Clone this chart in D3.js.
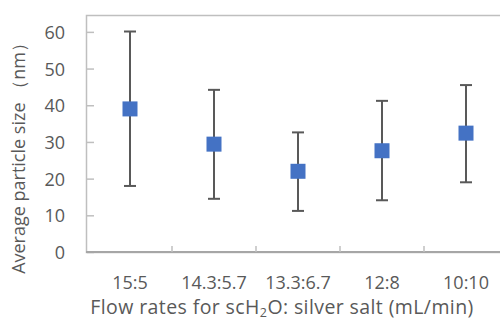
<!DOCTYPE html>
<html>
<head>
<meta charset="utf-8">
<script src="https://cdn.jsdelivr.net/npm/d3@7"></script>
<style>
  body { margin: 0; background: #fff; }
  #chart text { font-family: "Open Sans", sans-serif; fill: #595959; }
</style>
</head>
<body>
<div id="chart"><svg></svg></div>
<script>
var categories = ["15:5", "14.3:5.7", "13.3:6.7", "12:8", "10:10"];
var means = [39.0, 29.4, 22.0, 27.6, 32.4];
var upper = [60.1, 44.2, 32.6, 41.2, 45.5];
var lower = [18.0, 14.5, 11.2, 14.1, 19.0];
var yTicks = [0, 10, 20, 30, 40, 50, 60];

var margin = { top: 15, left: 88 };
var width = 420;
var height = 237;

var svg = d3.select("#chart svg").
  attr("width", 500).
  attr("height", 322).
  append("g").
  attr("transform", "translate(" + margin.left + "," + margin.top + ")");

var xScale = d3.scaleBand().
  domain(categories).
  range([0, width]);

var yScale = d3.scaleLinear().
  domain([0, 64.6]).
  range([height, 0]);

// frame
svg.append("rect").
  attr("x", -1.5).
  attr("y", 0.5).
  attr("width", width + 1.5).
  attr("height", height).
  attr("fill", "none").
  attr("stroke", "#bfbfbf").
  attr("stroke-width", 1.5);

// y ticks, inward
var yAxis = d3.axisLeft(yScale).
  tickValues(yTicks).
  tickSize(-7).
  tickPadding(22);

var gY = svg.append("g").
  attr("class", "y axis").
  attr("transform", "translate(-1,0)").
  call(yAxis);
gY.select(".domain").remove();
gY.selectAll(".tick line").attr("stroke", "#bfbfbf").attr("stroke-width", 1.5);
gY.selectAll(".tick text").attr("font-size", 18).attr("dy", "0.36em");

// bottom axis with ticks between categories
var bounds = categories.slice(1).map(function(c) { return xScale(c); });
var gX = svg.append("g").
  attr("class", "x axis").
  attr("transform", "translate(0," + height + ")");
gX.append("line").
  attr("x1", -2).
  attr("x2", width).
  attr("stroke", "#a6a6a6").
  attr("stroke-width", 2);
gX.selectAll(".bound").
  data(bounds).
  enter().append("line").
  attr("x1", function(d) { return d; }).
  attr("x2", function(d) { return d; }).
  attr("y1", 0).
  attr("y2", -6).
  attr("stroke", "#bfbfbf").
  attr("stroke-width", 1.5);
gX.selectAll(".cat").
  data(categories).
  enter().append("text").
  attr("x", function(d) { return xScale(d) + xScale.bandwidth() / 2; }).
  attr("y", 37).
  attr("text-anchor", "middle").
  attr("font-size", 18).
  text(function(d) { return d; });

// error bars
var pts = categories.map(function(c, i) {
  return { c: c, m: means[i], hi: upper[i], lo: lower[i] };
});
var cx = function(d) { return xScale(d.c) + xScale.bandwidth() / 2; };

var eb = svg.selectAll(".err").data(pts).enter().append("g").attr("class", "err");
eb.append("line").
  attr("x1", cx).attr("x2", cx).
  attr("y1", function(d) { return yScale(d.hi); }).
  attr("y2", function(d) { return yScale(d.lo); });
eb.append("line").
  attr("x1", function(d) { return cx(d) - 6; }).attr("x2", function(d) { return cx(d) + 6; }).
  attr("y1", function(d) { return yScale(d.hi); }).
  attr("y2", function(d) { return yScale(d.hi); });
eb.append("line").
  attr("x1", function(d) { return cx(d) - 6; }).attr("x2", function(d) { return cx(d) + 6; }).
  attr("y1", function(d) { return yScale(d.lo); }).
  attr("y2", function(d) { return yScale(d.lo); });
eb.selectAll("line").attr("stroke", "#595959").attr("stroke-width", 2);

// markers
svg.selectAll(".pt").data(pts).enter().append("rect").
  attr("class", "pt").
  attr("x", function(d) { return cx(d) - 7.5; }).
  attr("y", function(d) { return yScale(d.m) - 7.5; }).
  attr("width", 15).
  attr("height", 15).
  attr("fill", "#4472c4");

// axis titles
var xt = svg.append("text").
  attr("x", 194).
  attr("y", 299).
  attr("text-anchor", "middle").
  attr("letter-spacing", 0.4).
  attr("font-size", 19.5);
xt.append("tspan").text("Flow rates for scH");
xt.append("tspan").attr("font-size", 12.5).attr("dy", 3).text("2");
xt.append("tspan").attr("dy", -3).text("O: silver salt (mL/min)");

svg.append("text").
  attr("transform", "translate(" + (-63) + "," + 139 + ") rotate(-90)").
  attr("text-anchor", "middle").
  attr("font-size", 18).
  text("Average particle size （nm）");
</script>
</body>
</html>
